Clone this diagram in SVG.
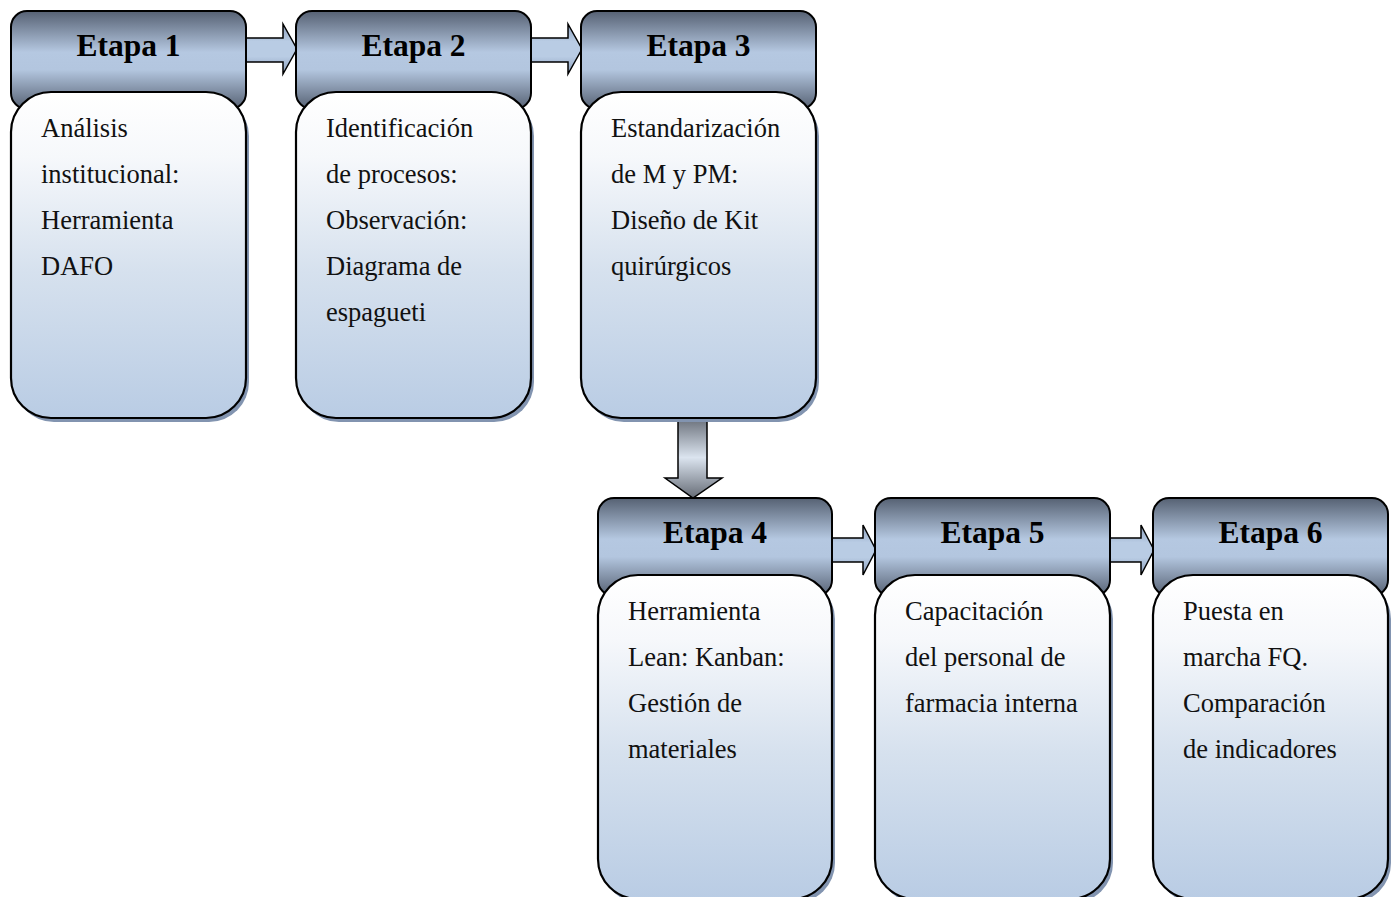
<svg xmlns="http://www.w3.org/2000/svg" width="1392" height="897" viewBox="0 0 1392 897">
<defs>
<linearGradient id="hg" x1="0" y1="0" x2="0" y2="1">
<stop offset="0" stop-color="#566173"/>
<stop offset="0.42" stop-color="#b5c8e1"/>
<stop offset="0.6" stop-color="#b3c6df"/>
<stop offset="1" stop-color="#566173"/>
</linearGradient>
<linearGradient id="bg" x1="0" y1="0" x2="0" y2="1">
<stop offset="0" stop-color="#ffffff"/>
<stop offset="0.2" stop-color="#f6f8fb"/>
<stop offset="0.55" stop-color="#d6e1ee"/>
<stop offset="1" stop-color="#b9cce4"/>
</linearGradient>
<linearGradient id="ag" x1="0" y1="0" x2="0" y2="1">
<stop offset="0" stop-color="#8b9fbd"/>
<stop offset="0.35" stop-color="#b9cce4"/>
<stop offset="0.65" stop-color="#b9cce4"/>
<stop offset="1" stop-color="#8b9fbd"/>
</linearGradient>
<linearGradient id="dg" x1="0" y1="0" x2="0" y2="1">
<stop offset="0" stop-color="#666c76"/>
<stop offset="0.5" stop-color="#dbe4ef"/>
<stop offset="1" stop-color="#666c76"/>
</linearGradient>
</defs>
<style>
.hd{fill:url(#hg);stroke:#000;stroke-width:2}
.bd{fill:url(#bg);stroke:#000;stroke-width:2.2}
.sh{fill:#8294b0}
.ar{fill:url(#ag);stroke:#000;stroke-width:1.5}
.ad{fill:url(#dg);stroke:#000;stroke-width:1.5}
.t{font-family:"Liberation Serif","Times New Roman",serif;font-weight:bold;font-size:31.5px;fill:#000;text-anchor:middle}
.b{font-family:"Liberation Serif","Times New Roman",serif;font-size:26.5px;fill:#111}
</style>
<g id="connectors">
<path class="ar" d="M246,38 H283 V24 L297,49 L283,74 V62 H246 Z"/>
<path class="ar" d="M531,38 H568 V24 L582,49 L568,74 V62 H531 Z"/>
<path class="ad" d="M678,417 H707 V478 H722 L693,498 L665,478 H678 Z"/>
<path class="ar" d="M832,538 H863 V525 L876,550 L863,575 V562 H832 Z"/>
<path class="ar" d="M1110,538 H1141 V525 L1154,550 L1141,575 V562 H1110 Z"/>
</g>
<g id="etapa1">
<rect class="hd" x="11" y="11" width="235" height="98" rx="16"/>
<rect class="sh" x="14" y="96" width="235" height="326" rx="40"/>
<rect class="bd" x="11" y="92" width="235" height="326" rx="40"/>
<text class="t" x="128.5" y="56">Etapa 1</text>
<text class="b" x="41" y="137">Análisis</text>
<text class="b" x="41" y="183">institucional:</text>
<text class="b" x="41" y="229">Herramienta</text>
<text class="b" x="41" y="275">DAFO</text>
</g>
<g id="etapa2">
<rect class="hd" x="296" y="11" width="235" height="98" rx="16"/>
<rect class="sh" x="299" y="96" width="235" height="326" rx="40"/>
<rect class="bd" x="296" y="92" width="235" height="326" rx="40"/>
<text class="t" x="413.5" y="56">Etapa 2</text>
<text class="b" x="326" y="137">Identificación</text>
<text class="b" x="326" y="183">de procesos:</text>
<text class="b" x="326" y="229">Observación:</text>
<text class="b" x="326" y="275">Diagrama de</text>
<text class="b" x="326" y="321">espagueti</text>
</g>
<g id="etapa3">
<rect class="hd" x="581" y="11" width="235" height="98" rx="16"/>
<rect class="sh" x="584" y="96" width="235" height="326" rx="40"/>
<rect class="bd" x="581" y="92" width="235" height="326" rx="40"/>
<text class="t" x="698.5" y="56">Etapa 3</text>
<text class="b" x="611" y="137">Estandarización</text>
<text class="b" x="611" y="183">de M y PM:</text>
<text class="b" x="611" y="229">Diseño de Kit</text>
<text class="b" x="611" y="275">quirúrgicos</text>
</g>
<g id="etapa4">
<rect class="hd" x="598" y="498" width="234" height="98" rx="16"/>
<rect class="sh" x="601" y="579" width="234" height="324" rx="40"/>
<rect class="bd" x="598" y="575" width="234" height="324" rx="40"/>
<text class="t" x="715" y="543">Etapa 4</text>
<text class="b" x="628" y="620">Herramienta</text>
<text class="b" x="628" y="666">Lean: Kanban:</text>
<text class="b" x="628" y="712">Gestión de</text>
<text class="b" x="628" y="758">materiales</text>
</g>
<g id="etapa5">
<rect class="hd" x="875" y="498" width="235" height="98" rx="16"/>
<rect class="sh" x="878" y="579" width="235" height="324" rx="40"/>
<rect class="bd" x="875" y="575" width="235" height="324" rx="40"/>
<text class="t" x="992.5" y="543">Etapa 5</text>
<text class="b" x="905" y="620">Capacitación</text>
<text class="b" x="905" y="666">del personal de</text>
<text class="b" x="905" y="712">farmacia interna</text>
</g>
<g id="etapa6">
<rect class="hd" x="1153" y="498" width="235" height="98" rx="16"/>
<rect class="sh" x="1156" y="579" width="235" height="324" rx="40"/>
<rect class="bd" x="1153" y="575" width="235" height="324" rx="40"/>
<text class="t" x="1270.5" y="543">Etapa 6</text>
<text class="b" x="1183" y="620">Puesta en</text>
<text class="b" x="1183" y="666">marcha FQ.</text>
<text class="b" x="1183" y="712">Comparación</text>
<text class="b" x="1183" y="758">de indicadores</text>
</g>
</svg>
